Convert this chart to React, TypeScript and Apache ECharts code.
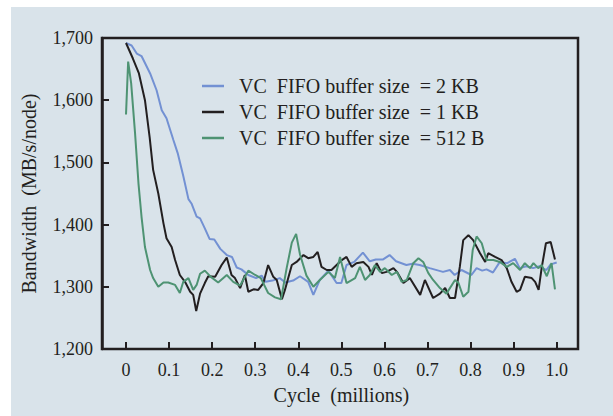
import React, { useEffect, useRef } from "react";
import * as echarts from "echarts";

const seriesNames = [
  "VC  FIFO buffer size  = 2 KB",
  "VC  FIFO buffer size  = 1 KB",
  "VC  FIFO buffer size  = 512 B",
];

const xTicks = [0, 0.1, 0.2, 0.3, 0.4, 0.5, 0.6, 0.7, 0.8, 0.9, 1.0];
const yTicks = [1200, 1300, 1400, 1500, 1600, 1700];

const blueX = [0, 0.013, 0.025, 0.036, 0.056, 0.071, 0.083, 0.094, 0.11, 0.12, 0.133, 0.145, 0.152, 0.164, 0.172, 0.183, 0.194, 0.205, 0.219, 0.234, 0.246, 0.257, 0.268, 0.284, 0.302, 0.315, 0.324, 0.34, 0.357, 0.37, 0.388, 0.404, 0.423, 0.435, 0.45, 0.47, 0.489, 0.5, 0.512, 0.53, 0.55, 0.566, 0.58, 0.597, 0.612, 0.627, 0.651, 0.665, 0.682, 0.705, 0.736, 0.752, 0.763, 0.779, 0.802, 0.814, 0.827, 0.837, 0.852, 0.868, 0.885, 0.903, 0.914, 0.93, 0.945, 0.96, 0.976, 0.986, 1.0];
const blueY = [1692, 1688, 1675, 1671, 1643, 1616, 1584, 1571, 1536, 1515, 1478, 1441, 1434, 1413, 1410, 1394, 1377, 1376, 1361, 1351, 1348, 1331, 1328, 1319, 1314, 1318, 1308, 1310, 1314, 1307, 1310, 1317, 1308, 1287, 1311, 1326, 1306, 1306, 1335, 1340, 1355, 1341, 1344, 1344, 1351, 1341, 1335, 1337, 1335, 1330, 1324, 1327, 1319, 1327, 1319, 1330, 1326, 1328, 1323, 1340, 1338, 1345, 1330, 1333, 1330, 1333, 1327, 1336, 1339];

const blackX = [0, 0.016, 0.03, 0.044, 0.055, 0.063, 0.075, 0.087, 0.094, 0.106, 0.114, 0.125, 0.137, 0.149, 0.156, 0.163, 0.172, 0.183, 0.191, 0.207, 0.222, 0.234, 0.245, 0.253, 0.265, 0.276, 0.284, 0.296, 0.307, 0.319, 0.33, 0.342, 0.35, 0.362, 0.369, 0.385, 0.396, 0.412, 0.423, 0.435, 0.445, 0.454, 0.466, 0.477, 0.489, 0.501, 0.512, 0.524, 0.535, 0.551, 0.563, 0.571, 0.582, 0.594, 0.605, 0.621, 0.629, 0.644, 0.659, 0.683, 0.694, 0.713, 0.729, 0.741, 0.752, 0.764, 0.775, 0.783, 0.795, 0.806, 0.822, 0.834, 0.841, 0.857, 0.872, 0.884, 0.895, 0.907, 0.915, 0.926, 0.942, 0.95, 0.958, 0.965, 0.975, 0.986, 0.996];
const blackY = [1692, 1667, 1643, 1600, 1540, 1488, 1450, 1402, 1378, 1364, 1343, 1319, 1308, 1292, 1287, 1261, 1289, 1306, 1317, 1316, 1335, 1347, 1319, 1314, 1298, 1319, 1292, 1296, 1295, 1306, 1335, 1316, 1311, 1280, 1295, 1335, 1340, 1351, 1346, 1348, 1356, 1332, 1327, 1327, 1335, 1343, 1348, 1332, 1338, 1340, 1332, 1319, 1338, 1322, 1324, 1330, 1324, 1306, 1314, 1287, 1311, 1282, 1289, 1298, 1282, 1282, 1332, 1375, 1383, 1375, 1354, 1340, 1354, 1348, 1343, 1330, 1308, 1292, 1295, 1316, 1314, 1308, 1295, 1330, 1370, 1372, 1344];

const greenX = [0, 0.005, 0.012, 0.021, 0.029, 0.036, 0.044, 0.056, 0.063, 0.075, 0.087, 0.098, 0.114, 0.125, 0.133, 0.145, 0.156, 0.164, 0.172, 0.183, 0.197, 0.214, 0.234, 0.249, 0.265, 0.284, 0.3, 0.313, 0.33, 0.346, 0.36, 0.373, 0.385, 0.395, 0.404, 0.419, 0.435, 0.45, 0.47, 0.485, 0.497, 0.512, 0.532, 0.543, 0.555, 0.566, 0.578, 0.59, 0.601, 0.617, 0.629, 0.64, 0.652, 0.667, 0.679, 0.69, 0.702, 0.713, 0.729, 0.744, 0.764, 0.772, 0.783, 0.795, 0.805, 0.814, 0.826, 0.837, 0.853, 0.868, 0.884, 0.899, 0.915, 0.926, 0.938, 0.946, 0.957, 0.965, 0.977, 0.988, 0.996];
const greenY = [1577, 1662, 1627, 1547, 1466, 1413, 1364, 1327, 1314, 1300, 1307, 1307, 1303, 1290, 1308, 1314, 1295, 1303, 1321, 1326, 1316, 1307, 1319, 1308, 1302, 1326, 1319, 1314, 1290, 1283, 1280, 1330, 1371, 1385, 1352, 1318, 1300, 1311, 1324, 1314, 1348, 1306, 1314, 1332, 1311, 1319, 1335, 1324, 1330, 1319, 1324, 1308, 1311, 1338, 1346, 1340, 1322, 1311, 1298, 1289, 1311, 1306, 1284, 1292, 1359, 1381, 1370, 1343, 1343, 1340, 1332, 1338, 1327, 1338, 1330, 1338, 1330, 1335, 1317, 1338, 1296];

const colors = ["#7391d3", "#231f20", "#4e9373"];
const ink = "#231f20";
const panel = "#d9e3ea";
const font = "'Liberation Serif', 'Times New Roman', serif";

const zip = (xs: number[], ys: number[]) => xs.map((x, i) => [x, ys[i]]);

export default function App() {
  const ref = useRef<HTMLDivElement>(null);
  useEffect(() => {
    if (!ref.current) return;
    const chart = echarts.init(ref.current, null, { renderer: "svg" });
    const data = [zip(blueX, blueY), zip(blackX, blackY), zip(greenX, greenY)];
    const yMin = yTicks[0];
    const yMax = yTicks[yTicks.length - 1];
    chart.setOption({
      animation: false,
      backgroundColor: panel,
      textStyle: { fontFamily: font, color: ink },
      grid: [
        { left: 91, right: 35, top: 31, bottom: 67, containLabel: false },
        { left: 115, right: 56.3, top: 31, bottom: 67, containLabel: false },
      ],
      legend: {
        data: seriesNames,
        orient: "vertical",
        left: 191,
        top: 69,
        itemWidth: 22,
        itemHeight: 2.5,
        itemGap: 6,
        icon: "rect",
        padding: 0,
        textStyle: { fontFamily: font, fontSize: 20, color: ink, padding: [0, 0, 0, 10], lineHeight: 20 },
      },
      xAxis: [
        { type: "value", gridIndex: 0, min: 0, max: 1, show: false },
        {
          type: "value",
          gridIndex: 1,
          min: xTicks[0],
          max: xTicks[xTicks.length - 1],
          interval: 0.1,
          name: "Cycle  (millions)",
          nameLocation: "middle",
          nameGap: 36,
          nameTextStyle: { fontFamily: font, fontSize: 20, color: ink },
          axisLine: { show: false, onZero: false },
          axisTick: { show: true, inside: true, length: 7, lineStyle: { color: ink, width: 2 } },
          axisLabel: {
            margin: 12,
            fontFamily: font,
            fontSize: 18,
            color: ink,
            formatter: (v: number) => (v === 0 ? "0" : v.toFixed(1)),
          },
          splitLine: { show: false },
        },
      ],
      yAxis: [
        {
          type: "value",
          gridIndex: 0,
          position: "left",
          min: yMin,
          max: yMax,
          interval: 100,
          name: "Bandwidth  (MB/s/node)",
          nameLocation: "middle",
          nameGap: 63,
          nameTextStyle: { fontFamily: font, fontSize: 20, color: ink },
          axisLine: { show: true, onZero: false, lineStyle: { color: ink, width: 2.5 } },
          axisTick: { show: true, inside: true, length: 7, lineStyle: { color: ink, width: 2 } },
          axisLabel: {
            margin: 9,
            fontFamily: font,
            fontSize: 18,
            color: ink,
            formatter: (v: number) => v.toLocaleString("en-US"),
          },
          splitLine: { show: false },
        },
        { type: "value", gridIndex: 1, min: yMin, max: yMax, show: false },
      ],
      graphic: [
        {
          type: "rect",
          z: 100,
          silent: true,
          shape: { x: 91, y: 31, width: 476, height: 311 },
          style: { fill: "none", stroke: ink, lineWidth: 2.5 },
        },
      ],
      series: seriesNames.map((name, i) => ({
        name,
        type: "line",
        xAxisIndex: 1,
        yAxisIndex: 1,
        data: data[i],
        showSymbol: false,
        symbol: "none",
        color: colors[i],
        lineStyle: { color: colors[i], width: 2 },
        z: 2 + i,
      })),
    });
    return () => chart.dispose();
  }, []);
  return (
    <div style={{ position: "absolute", left: 0, top: 0, width: 613, height: 416, background: "#ffffff" }}>
      <div ref={ref} style={{ position: "absolute", left: 11, top: 7, width: 602, height: 409 }} />
    </div>
  );
}
